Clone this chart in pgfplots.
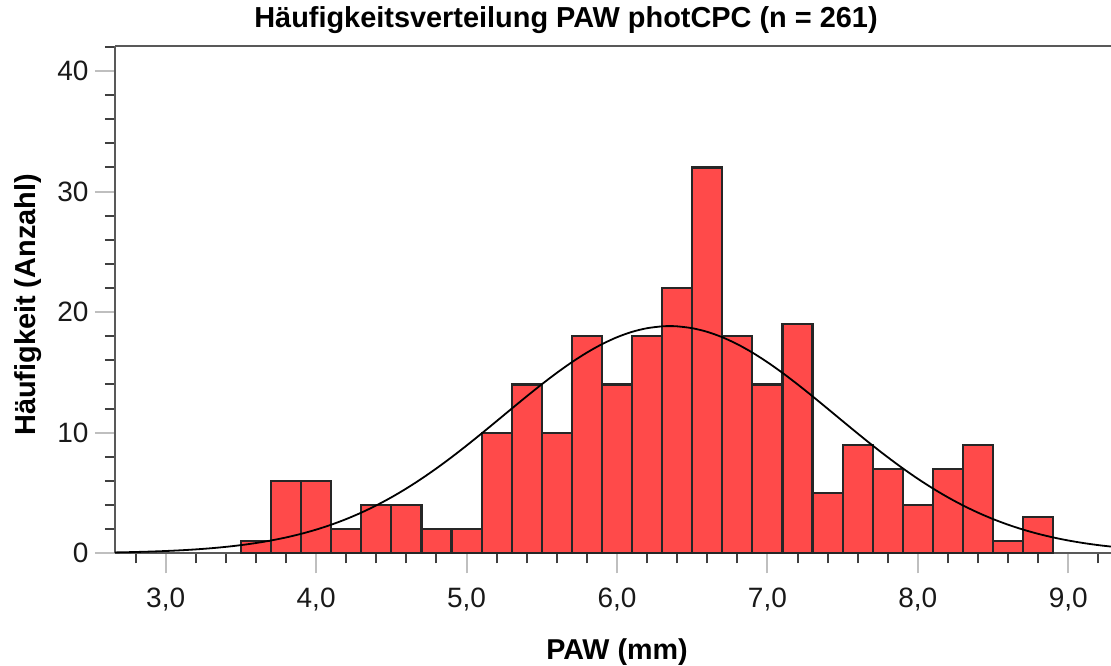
\documentclass[border=0pt]{standalone}
\usepackage{pgfplots}
\pgfplotsset{compat=1.18}
\usepackage{fontspec}
\setmainfont{Liberation Sans}
\definecolor{barred}{RGB}{255,74,74}
\begin{document}
\begin{tikzpicture}
\useasboundingbox (0,0) rectangle (1111pt,666pt);
\begin{axis}[
  at={(115pt,112.7pt)}, anchor=south west,
  scale only axis, width=996pt, height=507.3pt,
  xmin=2.663, xmax=9.284, ymin=0, ymax=42.07,
  axis x line*=box, axis y line*=left,
  xtick pos=left, ytick pos=left,
  tick align=outside,
  xtick={2,3,4,5,6,7,8,9,10}, ytick={0,10,20,30,40,50},
  minor x tick num=4, minor y tick num=4,
  major tick length=20pt, minor tick length=10pt,
  major tick style={draw=black!25, line width=2pt},
  minor tick style={draw=black!75, line width=2pt},
  axis line style={draw=black!65, line width=2.2pt},
  xticklabel style={yshift=-11pt, /pgf/number format/.cd, fixed, fixed zerofill, precision=1, use comma},
  yticklabel style={xshift=-3pt},
  /pgf/number format/assume math mode=true,
  tick label style={font=\fontsize{28}{31}\selectfont, text=black!90},
  title={\bfseries Häufigkeitsverteilung PAW photCPC (n = 261)},
  title style={at={(axis description cs:0.4528,1.0256)}, anchor=base, font=\fontsize{28.9}{32}\selectfont, inner sep=0pt},
  xlabel={\bfseries PAW (mm)},
  xlabel style={at={(axis description cs:0.504,-0.2103)}, anchor=base, font=\fontsize{28.7}{32}\selectfont, inner sep=0pt},
  ylabel={\bfseries Häufigkeit (Anzahl)},
  ylabel style={at={(axis description cs:-0.0803,0.4895)}, anchor=base, font=\fontsize{28.9}{32}\selectfont, inner sep=0pt},
]
\addplot[ybar interval, fill=barred, draw=black!85, line width=2.2pt] coordinates {
(3.5,1) (3.7,6) (3.9,6) (4.1,2) (4.3,4) (4.5,4) (4.7,2) (4.9,2)
(5.1,10) (5.3,14) (5.5,10) (5.7,18) (5.9,14) (6.1,18) (6.3,22) (6.5,32)
(6.7,18) (6.9,14) (7.1,19) (7.3,5) (7.5,9) (7.7,7) (7.9,4) (8.1,7)
(8.3,9) (8.5,1) (8.7,3) (8.9,3)
};
\addplot[smooth, black, line width=1.8pt] coordinates {
(2.6,0.060) (2.7,0.080) (2.8,0.108) (2.9,0.144) (3.0,0.190) (3.1,0.249)
(3.2,0.324) (3.3,0.418) (3.4,0.534) (3.5,0.677) (3.6,0.852) (3.7,1.062)
(3.8,1.314) (3.9,1.613) (4.0,1.963) (4.1,2.370) (4.2,2.838) (4.3,3.370)
(4.4,3.971) (4.5,4.639) (4.6,5.376) (4.7,6.179) (4.8,7.044) (4.9,7.964)
(5.0,8.932) (5.1,9.936) (5.2,10.962) (5.3,11.995) (5.4,13.019) (5.5,14.015)
(5.6,14.964) (5.7,15.847) (5.8,16.645) (5.9,17.341) (6.0,17.918) (6.1,18.364)
(6.2,18.667) (6.3,18.821) (6.35,18.84) (6.4,18.821) (6.5,18.667) (6.6,18.364)
(6.7,17.918) (6.8,17.341) (6.9,16.645) (7.0,15.847) (7.1,14.964) (7.2,14.015)
(7.3,13.019) (7.4,11.995) (7.5,10.962) (7.6,9.936) (7.7,8.932) (7.8,7.964)
(7.9,7.044) (8.0,6.179) (8.1,5.376) (8.2,4.639) (8.3,3.971) (8.4,3.370)
(8.5,2.838) (8.6,2.370) (8.7,1.963) (8.8,1.613) (8.9,1.314) (9.0,1.062)
(9.1,0.852) (9.2,0.677) (9.3,0.534)
};
\end{axis}
\end{tikzpicture}
\end{document}
